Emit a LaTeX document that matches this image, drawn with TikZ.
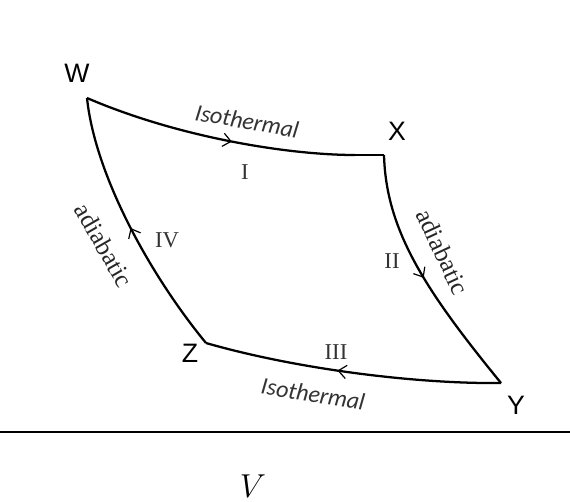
\documentclass[tikz,border=0pt]{standalone}
\usepackage{fontspec}
\setmainfont{Liberation Serif}
\newfontfamily\arialf{Liberation Sans}
\newfontfamily\calibrif{Carlito}
\usetikzlibrary{decorations.markings,arrows.meta}
\tikzset{
  cyc/.style={line width=1.7pt, line join=miter},
  midarrow/.style={postaction={decorate},decoration={markings,
     mark=at position #1 with {\arrow[line width=0.9pt]{Straight Barb[length=6pt,width=10pt]}}}},
  corner/.style={font=\arialf\fontsize{20}{24}\selectfont, inner sep=0pt},
  proc/.style={font=\calibrif\itshape\fontsize{18}{22}\selectfont, inner sep=0pt, text=black!80},
  adia/.style={font=\fontsize{19}{22}\selectfont, inner sep=0pt, text=black!85},
  roman/.style={font=\fontsize{17}{20}\selectfont, inner sep=0pt, text=black!80},
}
\begin{document}
\begin{tikzpicture}[x=0.75pt,y=-0.75pt]
\useasboundingbox (0,0) rectangle (570,501);
\coordinate (W) at (87,98);
\coordinate (X) at (384,155);
\coordinate (Y) at (501,383);
\coordinate (Z) at (206,343);
\coordinate (Xb) at (355,155);
% isothermal I
\draw[cyc,midarrow=0.55] (W) .. controls (180,138) and (290,155) .. (Xb);
\draw[cyc] (Xb) -- (X);
% adiabatic II
\draw[cyc,midarrow=0.5] (X) .. controls (386,230) and (425,290) .. (Y);
% isothermal III
\draw[cyc,midarrow=0.55] (Y) .. controls (420,384) and (300,370) .. (Z);
% adiabatic IV
\draw[cyc,midarrow=0.5] (Z) .. controls (150,275) and (95,175) .. (W);
% corner labels
\node[corner] (lw) at (77,73) {W};
\node[corner] (lx) at (397,131) {X};
\node[corner] (ly) at (516,405) {Y};
\node[corner] (lz) at (190,353) {Z};
% process labels
\node[proc,rotate=-10] (t1) at (247,121) {Isothermal};
\node[proc,rotate=-9] (t3) at (313,394) {Isothermal};
\node[adia,rotate=-65] (a2) at (443,252) {adiabatic};
\node[adia,rotate=-60] (a4) at (104,245) {adiabatic};
\node[roman] (r1) at (245,172) {I};
\node[roman] (r2) at (392,261) {II};
\node[roman] (r3) at (336,352) {III};
\node[roman] (r4) at (167,240) {IV};
% axis
\coordinate (al) at (0,432);
\coordinate (ar) at (570,432);
\draw[line width=1.5pt] (al) -- (ar);
\node[font=\fontsize{24}{28}\selectfont, inner sep=0pt] (v) at (253,486) {$V$};
\end{tikzpicture}
\end{document}
